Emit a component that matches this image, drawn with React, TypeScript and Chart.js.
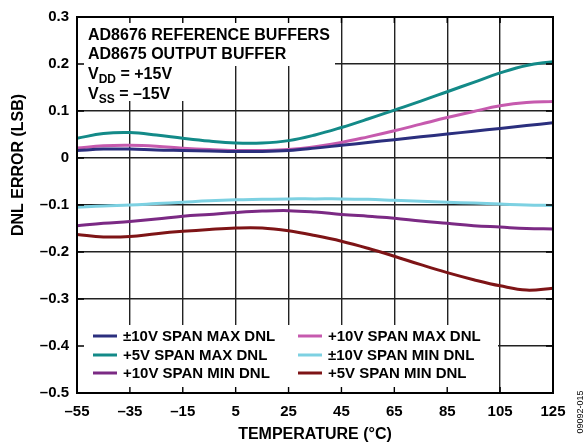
import React, { useEffect, useRef } from "react";
import { Chart, registerables } from "chart.js";

Chart.register(...registerables);

const temps = [-55, -45, -35, -25, -15, -5, 5, 15, 25, 35, 45, 55, 65, 75, 85, 95, 105, 115, 125];
const xTicks = [-55, -35, -15, 5, 25, 45, 65, 85, 105, 125];
const yTicks = [-0.5, -0.4, -0.3, -0.2, -0.1, 0, 0.1, 0.2, 0.3];

const span10BipMax = [0.016, 0.019, 0.019, 0.017, 0.016, 0.015, 0.014, 0.014, 0.016, 0.021, 0.027, 0.033, 0.039, 0.045, 0.051, 0.057, 0.063, 0.069, 0.075];
const span10Max = [0.021, 0.026, 0.027, 0.025, 0.021, 0.018, 0.016, 0.016, 0.018, 0.024, 0.033, 0.045, 0.058, 0.072, 0.086, 0.099, 0.111, 0.118, 0.12];
const span5Max = [0.042, 0.052, 0.054, 0.049, 0.042, 0.036, 0.032, 0.032, 0.037, 0.049, 0.065, 0.083, 0.102, 0.121, 0.141, 0.161, 0.181, 0.197, 0.205];
const span10BipMin = [-0.105, -0.102, -0.1, -0.097, -0.094, -0.091, -0.089, -0.088, -0.087, -0.087, -0.087, -0.088, -0.09, -0.092, -0.094, -0.096, -0.098, -0.1, -0.101];
const span10Min = [-0.144, -0.139, -0.135, -0.13, -0.124, -0.12, -0.116, -0.113, -0.112, -0.115, -0.12, -0.124, -0.128, -0.134, -0.139, -0.144, -0.147, -0.15, -0.151];
const span5Min = [-0.163, -0.168, -0.167, -0.161, -0.156, -0.152, -0.149, -0.149, -0.155, -0.165, -0.177, -0.192, -0.209, -0.227, -0.244, -0.259, -0.272, -0.281, -0.277];

const seriesNames = [
  "±10V SPAN MAX DNL",
  "+10V SPAN MAX DNL",
  "+5V SPAN MAX DNL",
  "±10V SPAN MIN DNL",
  "+10V SPAN MIN DNL",
  "+5V SPAN MIN DNL",
];
const seriesValues = [span10BipMax, span10Max, span5Max, span10BipMin, span10Min, span5Min];
const seriesColors = ["#2B2F7E", "#C65AAE", "#138A88", "#7DD1E2", "#7B2A84", "#7E1416"];

const FONT = '"Liberation Sans", Arial, Helvetica, sans-serif';

const overlayPlugin = {
  id: "overlay",
  beforeDatasetsDraw(chart: any) {
    const { ctx, chartArea } = chart;
    const { left, top, bottom } = chartArea;
    ctx.save();
    ctx.fillStyle = "#ffffff";
    // text box
    ctx.fillRect(left + 1, top + 1, 257, 48);
    ctx.fillRect(left + 1, top + 1, 152, 83);
    // legend box
    ctx.fillRect(left + 1, bottom - 68, 420, 67);
    ctx.restore();
  },
  afterDatasetsDraw(chart: any) {
    const { ctx, chartArea, scales } = chart;
    const { left, top, right, bottom } = chartArea;
    ctx.save();
    // inside ticks
    ctx.strokeStyle = "#000";
    ctx.lineWidth = 1.4;
    ctx.beginPath();
    xTicks.forEach((t) => {
      const x = scales.x.getPixelForValue(t);
      ctx.moveTo(x, top);
      ctx.lineTo(x, top + 6);
      ctx.moveTo(x, bottom);
      ctx.lineTo(x, bottom - 6);
    });
    yTicks.forEach((t) => {
      const y = scales.y.getPixelForValue(t);
      ctx.moveTo(left, y);
      ctx.lineTo(left + 7, y);
      ctx.moveTo(right, y);
      ctx.lineTo(right - 7, y);
    });
    ctx.stroke();
    // border
    ctx.lineWidth = 2;
    ctx.strokeRect(left, top, right - left, bottom - top);

    // text annotations
    ctx.fillStyle = "#000";
    ctx.textBaseline = "alphabetic";
    ctx.textAlign = "left";
    ctx.font = `bold 16px ${FONT}`;
    const tx = left + 11;
    ctx.fillText("AD8676 REFERENCE BUFFERS", tx, top + 23);
    ctx.fillText("AD8675 OUTPUT BUFFER", tx, top + 42);
    const drawSub = (main: string, sub: string, rest: string, y: number) => {
      ctx.font = `bold 16px ${FONT}`;
      ctx.fillText(main, tx, y);
      let x = tx + ctx.measureText(main).width;
      ctx.font = `bold 12px ${FONT}`;
      ctx.fillText(sub, x, y + 4);
      x += ctx.measureText(sub).width;
      ctx.font = `bold 16px ${FONT}`;
      ctx.fillText(rest, x, y);
    };
    drawSub("V", "DD", " = +15V", top + 62);
    drawSub("V", "SS", " = \u201315V", top + 82);

    // legend: left column ±10 MAX, +5 MAX, +10 MIN; right column +10 MAX, ±10 MIN, +5 MIN
    ctx.font = `bold 15px ${FONT}`;
    ctx.textBaseline = "middle";
    const colSeries = [
      [0, 2, 4],
      [1, 3, 5],
    ];
    const colX = [left + 16, left + 221];
    const rowY = [bottom - 57, bottom - 38, bottom - 20];
    colSeries.forEach((col, ci) => {
      col.forEach((si, ri) => {
        const x = colX[ci];
        const y = rowY[ri];
        ctx.strokeStyle = seriesColors[si];
        ctx.lineWidth = 3;
        ctx.beginPath();
        ctx.moveTo(x, y);
        ctx.lineTo(x + 24, y);
        ctx.stroke();
        ctx.fillStyle = "#000";
        ctx.fillText(seriesNames[si], x + 30, y + 1);
      });
    });

    // y axis title
    ctx.save();
    ctx.translate(19, 165);
    ctx.rotate(-Math.PI / 2);
    ctx.font = `bold 16px ${FONT}`;
    ctx.textAlign = "center";
    ctx.textBaseline = "middle";
    ctx.fillStyle = "#000";
    ctx.fillText("DNL ERROR (LSB)", 0, 0);
    ctx.restore();

    // figure code
    ctx.save();
    ctx.translate(581, 412);
    ctx.rotate(-Math.PI / 2);
    ctx.font = `9px ${FONT}`;
    ctx.textAlign = "center";
    ctx.textBaseline = "middle";
    ctx.fillStyle = "#000";
    ctx.fillText("09092-015", 0, 0);
    ctx.restore();
    ctx.restore();
  },
};

export default function App() {
  const ref = useRef<HTMLCanvasElement | null>(null);
  useEffect(() => {
    document.body.style.margin = "0";
    const canvas = ref.current;
    if (!canvas) return;
    const chart = new Chart(canvas, {
      type: "line",
      data: {
        datasets: seriesValues.map((vals, i) => ({
          label: seriesNames[i],
          data: temps.map((t, j) => ({ x: t, y: vals[j] })),
          borderColor: seriesColors[i],
          backgroundColor: seriesColors[i],
          borderWidth: 3,
          pointRadius: 0,
          tension: 0.4,
          fill: false,
        })),
      },
      options: {
        animation: false,
        responsive: false,
        maintainAspectRatio: false,
        layout: { padding: { top: 14, right: 35, left: 0, bottom: 0 } },
        plugins: {
          legend: { display: false },
          tooltip: { enabled: false },
        },
        scales: {
          x: {
            type: "linear",
            min: -55,
            max: 125,
            afterBuildTicks: (scale: any) => {
              scale.ticks = xTicks.map((v) => ({ value: v }));
            },
            afterFit: (scale: any) => {
              scale.height = 53;
            },
            ticks: {
              color: "#000",
              font: { family: FONT, weight: "bold", size: 15 },
              padding: 10,
              callback: (v: any) => (Number(v) < 0 ? "\u2013" + Math.abs(Number(v)) : String(v)),
              maxRotation: 0,
              autoSkip: false,
            },
            grid: { color: "#222", lineWidth: 1.4, drawTicks: false },
            border: { display: false },
            title: {
              display: true,
              text: "TEMPERATURE (°C)",
              color: "#000",
              font: { family: FONT, weight: "bold", size: 16 },
              padding: { top: 4, bottom: 2 },
            },
          },
          y: {
            type: "linear",
            min: -0.5,
            max: 0.3,
            afterBuildTicks: (scale: any) => {
              scale.ticks = yTicks.map((v) => ({ value: v }));
            },
            afterFit: (scale: any) => {
              scale.width = 77;
            },
            ticks: {
              color: "#000",
              font: { family: FONT, weight: "bold", size: 15 },
              padding: 8,
              callback: (v: any) => {
                const n = Math.round(Number(v) * 10) / 10;
                if (n === 0) return "0";
                return n < 0 ? "\u2013" + Math.abs(n).toFixed(1) : n.toFixed(1);
              },
            },
            grid: { color: "#222", lineWidth: 1.4, drawTicks: false },
            border: { display: false },
            title: { display: false },
          },
        },
      } as any,
      plugins: [overlayPlugin],
    });
    return () => chart.destroy();
  }, []);
  return (
    <div style={{ width: 588, height: 446 }}>
      <canvas ref={ref} width={588} height={446} style={{ width: 588, height: 446 }} />
    </div>
  );
}
